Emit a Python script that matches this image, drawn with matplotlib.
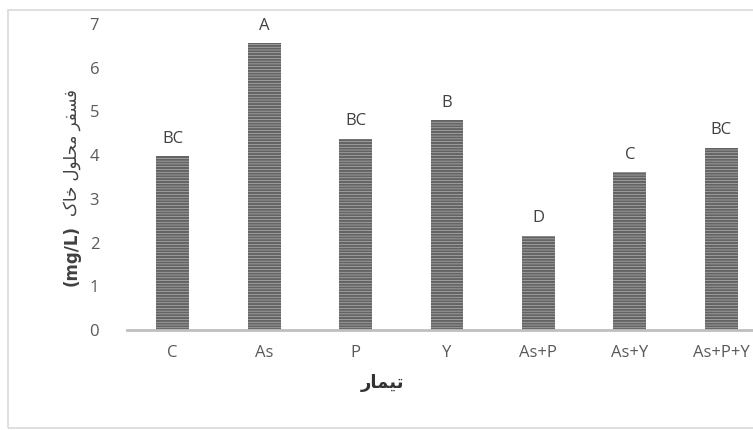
import matplotlib
matplotlib.use("Agg")
import matplotlib.pyplot as plt
from matplotlib.patches import Rectangle

categories = ["C", "As", "P", "Y", "As+P", "As+Y", "As+P+Y"]
values = [3.97, 6.56, 4.38, 4.80, 2.16, 3.61, 4.17]
letters = ["BC", "A", "BC", "B", "D", "C", "BC"]
yticks = [0, 1, 2, 3, 4, 5, 6, 7]

# Persian text, pre-shaped into presentation forms in visual (LTR) order
fa_phosphor = "\uFEAE\uFED4\uFEB4\uFED3"          # فسفر
fa_solution = "\uFEDD\uFEEE\uFEE0\uFEA4\uFEE3"    # محلول
fa_soil = "\uFB8E\uFE8E\uFEA7"                    # خاک
ylabel_fa = fa_soil + " " + fa_solution + " " + fa_phosphor
ylabel_unit = "(mg/L)"
xlabel_text = "\uFEAD\uFE8E\uFEE4\uFEF4\uFE97"    # تیمار

plt.rcParams["hatch.linewidth"] = 1.6
fig = plt.figure(figsize=(7.53, 4.30), dpi=100)
fig.patches.append(Rectangle((8 / 753, 2 / 430), 1.0, 418 / 430, transform=fig.transFigure,
                             fill=False, edgecolor="#d9d9d9", linewidth=1.2))

ax = fig.add_axes([127 / 753, 100 / 430, 640 / 753, 306 / 430])
x = range(len(categories))
ax.bar(x, values, width=0.36, color="#c4c4c4", edgecolor="#646464",
       hatch="------", linewidth=0)
for xi, v, lab in zip(x, values, letters):
    ax.text(xi, v + 0.22, lab, ha="center", va="bottom", fontsize=12,
            color="#404040", family="Open Sans")

ax.set_xlim(-0.5, 6.5)
ax.set_ylim(0, 7)
ax.set_yticks(yticks)
ax.set_xticks(list(x))
ax.set_xticklabels(categories, family="Open Sans", fontsize=12, color="#595959")
for t in ax.get_yticklabels():
    t.set_family("Open Sans")
    t.set_fontsize(12)
    t.set_color("#595959")
ax.tick_params(axis="both", length=0)
ax.tick_params(axis="x", pad=11)
ax.tick_params(axis="y", pad=20)
for s in ["top", "right", "left"]:
    ax.spines[s].set_visible(False)
ax.spines["bottom"].set_color("#bfbfbf")
ax.spines["bottom"].set_linewidth(2)

fig.text(72 / 753, 1 - 256 / 430, ylabel_unit, rotation=90, ha="center", va="center",
         fontsize=12, fontweight="bold", color="#404040", family="DejaVu Sans")
fig.text(72 / 753, 1 - 152 / 430, ylabel_fa, rotation=90, ha="center", va="center",
         fontsize=12, color="#404040", family="DejaVu Sans")
fig.text(383 / 753, 1 - 383 / 430, xlabel_text, ha="center", va="center",
         fontsize=13, fontweight="bold", color="#333333", family="DejaVu Sans")

fig.savefig("out.png", dpi=100)
